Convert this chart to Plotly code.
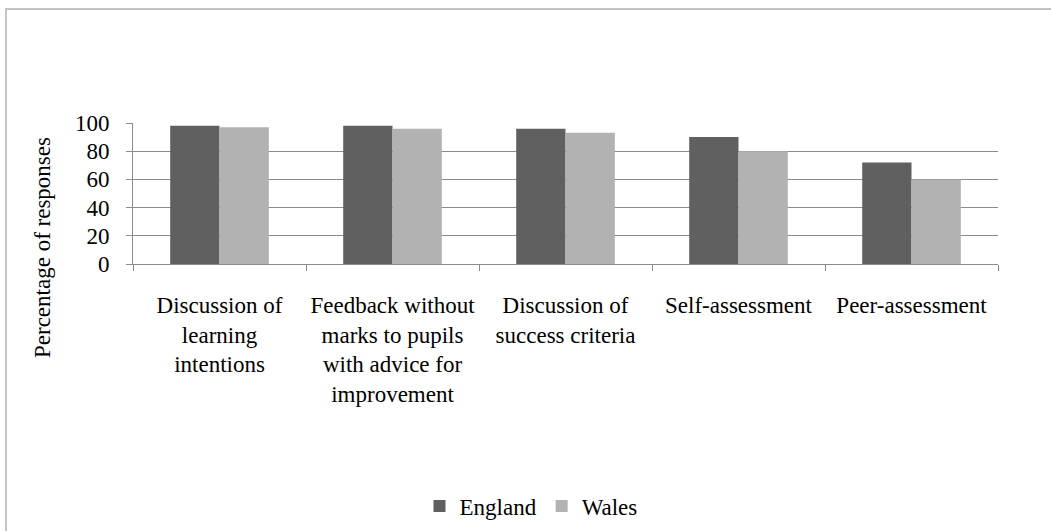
import plotly.graph_objects as go

categories = [
    "Discussion of<br>learning<br>intentions",
    "Feedback without<br>marks to pupils<br>with advice for<br>improvement",
    "Discussion of<br>success criteria",
    "Self-assessment",
    "Peer-assessment",
]
england = [98, 98, 96, 90, 72]
wales = [97, 96, 93, 80, 60]
y_ticks = [0, 20, 40, 60, 80, 100]

W, H = 1051, 531
L, R, T, B = 133, 53, 123, 267
pw, ph = W - L - R, H - T - B

def px_x(p):
    return (p - L) / pw

def px_y(p):
    return (H - B - p) / ph

FAM = "Liberation Serif, Times New Roman, serif"
font = dict(family=FAM, size=23, color="#000000")

fig = go.Figure()
fig.add_trace(go.Bar(name="England", x=categories, y=england,
                     marker=dict(color="#606060", line=dict(width=0))))
fig.add_trace(go.Bar(name="Wales", x=categories, y=wales,
                     marker=dict(color="#b2b2b2", line=dict(width=0))))

fig.update_layout(
    width=W, height=H,
    margin=dict(l=L, r=R, t=T, b=B, pad=0, autoexpand=False),
    paper_bgcolor="white", plot_bgcolor="white",
    font=font,
    barmode="group", bargap=0.43, bargroupgap=0,
    showlegend=True,
    legend=dict(orientation="h", xref="container", yref="container",
                x=531 / W, xanchor="center", y=1 - 506 / H, yanchor="middle",
                font=font, itemwidth=30, tracegroupgap=0, traceorder="normal"),
    xaxis=dict(
        showline=True, linecolor="#8c8c8c", linewidth=1,
        ticks="outside", tickson="boundaries", ticklen=6, tickcolor="#8c8c8c",
        tickangle=0, ticklabelstandoff=20, showgrid=False,
        tickfont=font, automargin=False,
    ),
    yaxis=dict(
        range=[0, 100], tickvals=y_ticks, ticktext=[str(v) for v in y_ticks],
        showline=True, linecolor="#8c8c8c", linewidth=1,
        ticks="outside", ticklen=6, tickcolor="#8c8c8c",
        showgrid=True, gridcolor="#8c8c8c", gridwidth=1, zeroline=False,
        ticklabelstandoff=12, tickfont=font, automargin=False,
    ),
    annotations=[dict(
        text="Percentage of responses", textangle=-90,
        xref="paper", yref="paper", x=px_x(42), y=px_y(248),
        xanchor="center", yanchor="middle", showarrow=False, font=font,
    )],
    shapes=[dict(
        type="rect", xref="paper", yref="paper",
        x0=px_x(6), x1=px_x(1070), y0=px_y(9), y1=px_y(560),
        line=dict(color="#c4c4c4", width=2), fillcolor="rgba(0,0,0,0)", layer="below",
    )],
)

fig.write_html("out.html", config={"displayModeBar": False},
               post_script="document.body.style.margin='0';document.body.style.overflow='hidden';")
